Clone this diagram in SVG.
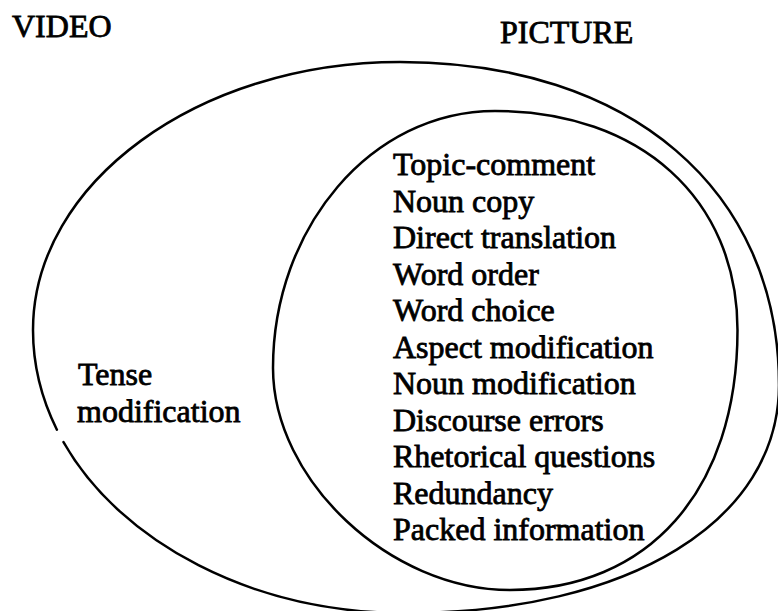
<svg xmlns="http://www.w3.org/2000/svg" width="778" height="611" viewBox="0 0 778 611">
<style>
.t{font-family:"Liberation Serif","Times New Roman",serif;font-size:32px;fill:#000;stroke:#000;stroke-width:0.8}
.ln{fill:none;stroke:#000;stroke-width:2.5;stroke-linecap:round}
</style>
<rect width="778" height="611" fill="#fff"/>
<g id="video">
<path class="ln" d="M56.9 429.7 C41.5 398.7 33 365.1 33 330 C33 183 198 62 400 62 C630 62 779 190 779 385 C779 520 631 613 405 613 C252.3 613 120.7 542.5 63.5 442.1"/>
<text class="t" x="12" y="37">VIDEO</text>
<text class="t" x="78" y="385">Tense</text>
<text class="t" x="77" y="422">modification</text>
</g>
<g id="picture">
<path class="ln" d="M495 111 C640 111 737.5 199 737.5 330 C737.5 491 648 590 510 590 C390 590 273 480 273 368 C273 228 371 111 495 111 Z"/>
<text class="t" x="500" y="43">PICTURE</text>
<text class="t" x="393" y="175">Topic-comment</text>
<text class="t" x="393" y="211.5">Noun copy</text>
<text class="t" x="393" y="248">Direct translation</text>
<text class="t" x="393" y="284.5">Word order</text>
<text class="t" x="393" y="321">Word choice</text>
<text class="t" x="393" y="357.5">Aspect modification</text>
<text class="t" x="393" y="394">Noun modification</text>
<text class="t" x="393" y="430.5">Discourse errors</text>
<text class="t" x="393" y="467">Rhetorical questions</text>
<text class="t" x="393" y="503.5">Redundancy</text>
<text class="t" x="393" y="540">Packed information</text>
</g>
<g id="connectors"></g>
</svg>
